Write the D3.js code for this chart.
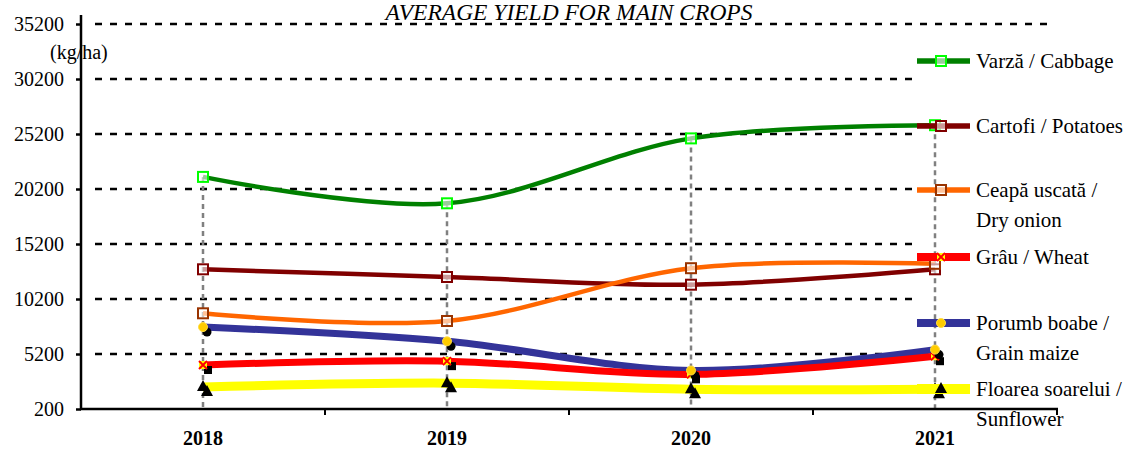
<!DOCTYPE html>
<html><head><meta charset="utf-8">
<script src="https://cdn.jsdelivr.net/npm/d3@7"></script>
<style>body{margin:0;background:#fff}svg{display:block}text{font-family:"Liberation Serif","Times New Roman",serif}</style>
</head><body><svg id="c" width="1126" height="450"></svg>
<script>
const years = ["2018","2019","2020","2021"];
const yTicks = [200,5200,10200,15200,20200,25200,30200,35200];
const cabbage   = [21300,18900,24800,26000];
const potatoes  = [12900,12200,11500,12900];
const onion     = [8900,8200,13000,13400];
const wheat     = [4200,4550,3350,5000];
const maize     = [7650,6350,3700,5600];
const sunflower = [2200,2550,2000,2000];
const names = ["Varză / Cabbage","Cartofi / Potatoes","Ceapă uscată / Dry onion","Grâu / Wheat","Porumb boabe / Grain maize","Floarea soarelui / Sunflower"];
const title = "AVERAGE YIELD FOR MAIN CROPS";
const unit = "(kg/ha)";

const FF = "Liberation Serif, Times New Roman, serif";
const series = [
  {name:names[0], values:cabbage,  color:"#008000", w:4.5, marker:"sq", mcolor:"#00ff00"},
  {name:names[1], values:potatoes, color:"#800000", w:4.5, marker:"sq", mcolor:"#800000"},
  {name:names[2], values:onion,    color:"#ff6600", w:4.5, marker:"sq", mcolor:"#993300"},
  {name:names[3], values:wheat,    color:"#ff0000", w:7,   marker:"x",  mcolor:"#ff0000"},
  {name:names[4], values:maize,    color:"#333399", w:7,   marker:"ci", mcolor:"#ffcc00"},
  {name:names[5], values:sunflower,color:"#ffff00", w:9,   marker:"tri",mcolor:"#000000"}
];

const svg = d3.select("#c");
const x = d3.scaleBand().domain(years).range([81,1057]);
const cx = d => x(d) + x.bandwidth()/2;
const y = d3.scaleLinear().domain([200,35200]).range([409,24]);

// gridlines (legend box hides them on the right, except the top one)
svg.append("g").selectAll("line").data(yTicks.slice(1)).join("line")
  .attr("x1",95).attr("x2",d=>d===35200?1055:913).attr("y1",d=>y(d)).attr("y2",d=>y(d))
  .attr("stroke","#000").attr("stroke-width",2.5).attr("stroke-dasharray","7,8");

// title
svg.append("text").attr("x",569).attr("y",20).attr("text-anchor","middle")
  .attr("font-family",FF).attr("font-style","italic").attr("font-size",23.5).text(title);

// drop lines
svg.append("g").selectAll("line").data(years).join("line")
  .attr("x1",cx).attr("x2",cx)
  .attr("y1",(d,i)=>y(d3.max(series,s=>s.values[i])))
  .attr("y2",409)
  .attr("stroke","#808080").attr("stroke-width",2.5).attr("stroke-dasharray","5,4");

// axes
const yAxis = svg.append("g").attr("transform","translate(81,0)")
  .call(d3.axisLeft(y).tickValues(yTicks).tickSize(5).tickPadding(12).tickFormat(d3.format("d")));
yAxis.select(".domain").remove();
yAxis.selectAll(".tick line").attr("stroke-width",2.5);
yAxis.selectAll(".tick text").attr("font-size",20).attr("font-family",FF).attr("fill","#000");
svg.append("line").attr("x1",81).attr("x2",81).attr("y1",15).attr("y2",410).attr("stroke","#000").attr("stroke-width",2.5);

const xAxis = svg.append("g").attr("transform","translate(0,409)")
  .call(d3.axisBottom(x).tickSize(0).tickPadding(22));
xAxis.select(".domain").remove();
xAxis.selectAll(".tick text").attr("font-size",20).attr("font-weight","bold").attr("font-family",FF).attr("fill","#000");
svg.append("line").attr("x1",80).attr("x2",1058).attr("y1",409).attr("y2",409).attr("stroke","#000").attr("stroke-width",2.5);
svg.append("g").selectAll("line").data(years.slice(1).concat(["end"])).join("line")
  .attr("x1",d=>d==="end"?1057:x(d)).attr("x2",d=>d==="end"?1057:x(d))
  .attr("y1",409).attr("y2",415).attr("stroke","#000").attr("stroke-width",2);

svg.append("text").attr("x",50).attr("y",59).attr("font-family",FF).attr("font-size",20).text(unit);

// lines
const line = d3.line().x((d,i)=>cx(years[i])).y(d=>y(d)).curve(d3.curveCardinal.tension(0));
const drawOrder = [0,1,2,4,3,5];
svg.append("g").selectAll("path").data(drawOrder.map(i=>series[i])).join("path")
  .attr("d",s=>line(s.values)).attr("fill","none")
  .attr("stroke",s=>s.color).attr("stroke-width",s=>s.w).attr("stroke-linecap","butt");

function marker(g, s, px, py, shadow){
  if(s.marker==="sq"){
    g.append("rect").attr("x",px-5).attr("y",py-5).attr("width",10).attr("height",10)
      .attr("fill","#fff").attr("fill-opacity",0.6).attr("stroke",s.mcolor).attr("stroke-width",2);
  } else if(s.marker==="x"){
    if(shadow) g.append("rect").attr("x",px+1).attr("y",py+1).attr("width",8).attr("height",8).attr("fill","#000");
    g.append("rect").attr("x",px-4).attr("y",py-4).attr("width",8).attr("height",8).attr("fill","#ffff00");
    g.append("path").attr("d",`M${px-4},${py-4}L${px+4},${py+4}M${px+4},${py-4}L${px-4},${py+4}`)
      .attr("stroke","#ff0000").attr("stroke-width",2);
  } else if(s.marker==="ci"){
    if(shadow) g.append("circle").attr("cx",px+4).attr("cy",py+5).attr("r",4.5).attr("fill","#000");
    g.append("circle").attr("cx",px).attr("cy",py).attr("r",4.5).attr("fill","#ffcc00").attr("stroke","#ffdd44").attr("stroke-width",1);
  } else {
    const tri = (a,b)=>`M${a},${b-7}L${a+6},${b+4}L${a-6},${b+4}Z`;
    if(shadow) g.append("path").attr("d",tri(px+4,py+5)).attr("fill","#000");
    g.append("path").attr("d",tri(px,py)).attr("fill","#000");
  }
}

const mg = svg.append("g");
series.forEach(s=>{
  s.values.forEach((v,i)=>marker(mg,s,cx(years[i]),y(v),true));
});

// legend
const legY = [61,126,190,257,323,389];
const lg = svg.append("g");
series.forEach((s,k)=>{
  const ly = legY[k];
  lg.append("line").attr("x1",917).attr("x2",970).attr("y1",ly).attr("y2",ly)
    .attr("stroke",s.color).attr("stroke-width",s.w+1);
  marker(lg,s,941,ly,false);
  const parts = s.name.split(" / ");
  const t = lg.append("text").attr("x",976).attr("y",ly+7).attr("font-family",FF).attr("font-size",21);
  if(k===0||k===1||k===3){ t.text(s.name); }
  else {
    t.append("tspan").attr("x",976).text(parts[0]+" /");
    t.append("tspan").attr("x",976).attr("dy",30).text(parts[1]);
  }
});
</script></body></html>
